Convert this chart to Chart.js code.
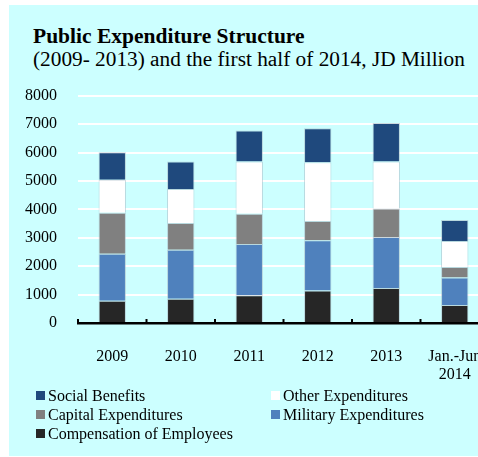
<!DOCTYPE html>
<html><head><meta charset="utf-8">
<script src="https://cdn.jsdelivr.net/npm/chart.js@4"></script>
<style>
html,body{margin:0;padding:0;background:#fff;width:478px;height:457px;overflow:hidden;font-family:"Liberation Serif","Times New Roman",serif;color:#000;}
#panel{position:absolute;left:9px;top:5px;width:469px;height:451px;background:#CCFFFF;}
#title{position:absolute;left:33px;top:24px;font-weight:bold;font-size:21.5px;white-space:nowrap;}
#subtitle{position:absolute;left:33px;top:47px;font-size:21.3px;white-space:nowrap;}
#wrap{position:absolute;left:0;top:66px;width:500px;height:334px;}
#legend{position:absolute;left:36px;top:386px;display:grid;grid-template-columns:235px 236px;font-size:16px;line-height:19px;}
.item{display:flex;align-items:center;white-space:nowrap;}
.box{width:9px;height:9px;margin-right:3px;flex:none;}
</style></head>
<body>
<div id="panel"></div>
<div id="title">Public Expenditure Structure</div>
<div id="subtitle">(2009- 2013) and the first half of 2014, JD Million</div>
<div id="wrap"><canvas id="c" width="500" height="334"></canvas></div>
<div id="legend"></div>
<script>
const categories = ['2009', '2010', '2011', '2012', '2013', ['Jan.-Jun', '2014']];
const compensation = [780, 850, 980, 1140, 1235, 630];
const military = [1655, 1725, 1805, 1770, 1795, 970];
const capital = [1445, 945, 1060, 680, 1000, 370];
const other = [1165, 1200, 1840, 2070, 1655, 920];
const social = [970, 970, 1095, 1200, 1360, 735];
const yTicks = [0, 1000, 2000, 3000, 4000, 5000, 6000, 7000, 8000];

const FONT = {family: '"Liberation Serif","Times New Roman",serif', size: 16, lineHeight: 1.1};
const edge = 'rgba(170,190,200,0.6)';
function ds(label, data, color) {
  return {label, data, backgroundColor: color, borderColor: edge, borderWidth: 1,
          barPercentage: 0.4, categoryPercentage: 1};
}
const datasets = [
  ds('Compensation of Employees', compensation, '#262626'),
  ds('Military Expenditures', military, '#4F81BD'),
  ds('Capital Expenditures', capital, '#808080'),
  ds('Other Expenditures', other, '#FFFFFF'),
  ds('Social Benefits', social, '#1F497D')
];

const innerTicks = {
  id: 'innerTicks',
  afterDraw(c) {
    const s = c.scales.x, ctx = c.ctx, n = s.ticks.length;
    const w = (s.right - s.left) / n;
    ctx.save();
    ctx.strokeStyle = '#000';
    ctx.lineWidth = 2;
    for (let i = 0; i <= n; i++) {
      const x = s.left + i * w;
      ctx.beginPath(); ctx.moveTo(x, s.top); ctx.lineTo(x, s.top - 4); ctx.stroke();
    }
    ctx.restore();
  }
};

const chart = new Chart(document.getElementById('c'), {
  type: 'bar',
  data: {labels: categories, datasets},
  plugins: [innerTicks],
  options: {
    responsive: false,
    animation: false,
    layout: {padding: {left: 0, right: 11, top: 0, bottom: 0}},
    plugins: {legend: {display: false}, tooltip: {enabled: false}},
    scales: {
      x: {
        stacked: true,
        grid: {display: false},
        border: {display: true, color: '#000', width: 2.5},
        ticks: {font: FONT, color: '#000', maxRotation: 0, autoSkip: false, padding: 17},
        afterFit: s => { s.height = 77; }
      },
      y: {
        stacked: true,
        min: yTicks[0], max: yTicks[yTicks.length - 1],
        afterBuildTicks: s => { s.ticks = yTicks.map(v => ({value: v})); },
        grid: {color: '#FFFFFF', lineWidth: 2, drawTicks: false},
        border: {display: false},
        ticks: {font: FONT, color: '#000', padding: 21, callback: v => String(v)},
        afterFit: s => { s.width = 78; }
      }
    }
  }
});

const leg = document.getElementById('legend');
datasets.slice().reverse().forEach(d => {
  const it = document.createElement('div');
  it.className = 'item';
  const b = document.createElement('span');
  b.className = 'box';
  b.style.background = d.backgroundColor;
  it.appendChild(b);
  it.appendChild(document.createTextNode(d.label));
  leg.appendChild(it);
});
</script>
</body></html>
